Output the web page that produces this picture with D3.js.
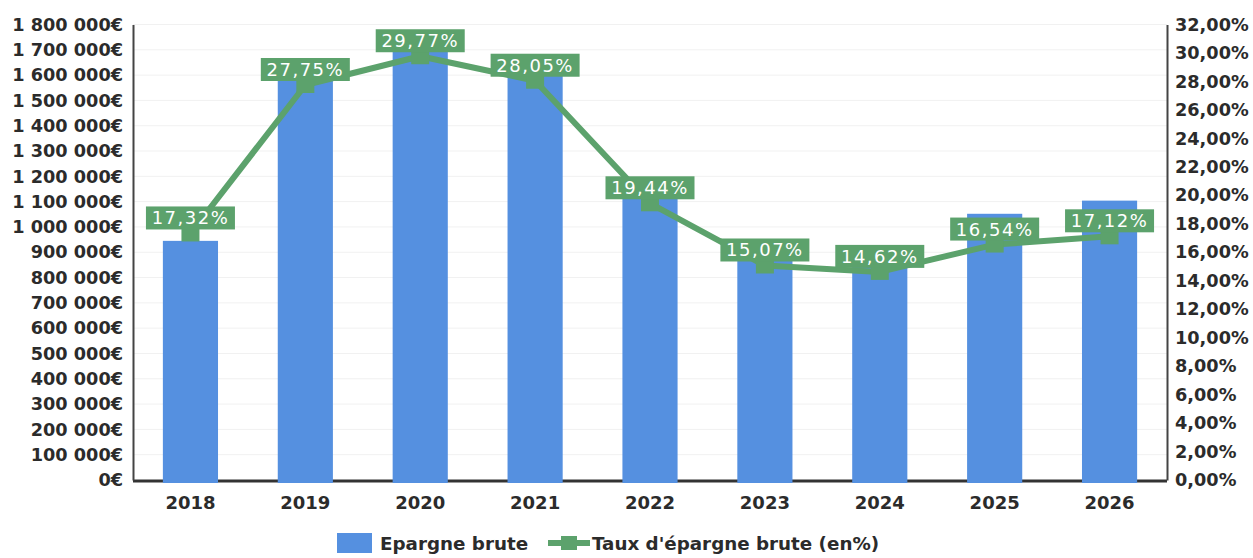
<!DOCTYPE html>
<html>
<head>
<meta charset="utf-8">
<title>Epargne brute</title>
<script src="https://d3js.org/d3.v7.min.js"></script>
<style>
  body { margin: 0; background: #fff; }
  svg { display: block; font-family: "DejaVu Sans", Verdana, sans-serif; }
</style>
</head>
<body>
<div id="chart"></div>
<script>
// data
var years = ["2018", "2019", "2020", "2021", "2022", "2023", "2024", "2025", "2026"];
var epargne = [945000, 1600000, 1700000, 1630000, 1150000, 900000, 880000, 1052000, 1104000];
var taux = [17.32, 27.75, 29.77, 28.05, 19.44, 15.07, 14.62, 16.54, 17.12];
var leftTicks = d3.range(0, 1800001, 100000);
var rightTicks = d3.range(0, 32.01, 2);
var legendNames = ["Epargne brute", "Taux d'épargne brute (en%)"];

var W = 1253, H = 558;
var margin = { top: 24.5, right: 86, bottom: 78, left: 133 };
var blue = "#5590e0", green = "#5ca26c";

var fr = d3.formatLocale({ decimal: ",", thousands: " ", grouping: [3], currency: ["", "€"] });
var fmtEuro = function (v) { return fr.format(",")(v) + "€"; };
var fmtPct = function (v) { return fr.format(".2f")(v) + "%"; };

var svg = d3.select("#chart").append("svg").attr("width", W).attr("height", H);

var x = d3.scaleBand().domain(years)
  .range([margin.left, W - margin.right])
  .paddingInner(0.52).paddingOuter(0.26);
var y = d3.scaleLinear().domain([0, 1800000]).range([H - margin.bottom, margin.top]);
var y2 = d3.scaleLinear().domain([0, 32]).range([H - margin.bottom, margin.top]);

// faint grid
svg.append("g").selectAll("line").data(leftTicks.slice(1)).join("line")
  .attr("x1", margin.left).attr("x2", W - margin.right)
  .attr("y1", function (d) { return y(d); }).attr("y2", function (d) { return y(d); })
  .attr("stroke", "#f1f1f1").attr("stroke-width", 1);

// baseline
svg.append("line")
  .attr("x1", margin.left).attr("x2", W - margin.right)
  .attr("y1", y(0) + 1).attr("y2", y(0) + 1)
  .attr("stroke", "#333").attr("stroke-width", 3);

// bars
svg.append("g").selectAll("rect").data(epargne).join("rect")
  .attr("x", function (d, i) { return x(years[i]); })
  .attr("width", x.bandwidth())
  .attr("y", function (d) { return y(d); })
  .attr("height", function (d) { return y(0) - y(d) + 3; })
  .attr("fill", blue);

// line
var cx = function (i) { return x(years[i]) + x.bandwidth() / 2; };
svg.append("path").datum(taux)
  .attr("fill", "none").attr("stroke", green).attr("stroke-width", 6)
  .attr("stroke-linejoin", "round")
  .attr("d", d3.line().x(function (d, i) { return cx(i); }).y(function (d) { return y2(d); }));

svg.append("g").selectAll("rect").data(taux).join("rect")
  .attr("x", function (d, i) { return cx(i) - 9; })
  .attr("y", function (d) { return y2(d) - 8; })
  .attr("width", 18).attr("height", 16)
  .attr("fill", green);

// value labels
var lab = svg.append("g").selectAll("g").data(taux).join("g")
  .attr("transform", function (d, i) { return "translate(" + cx(i) + "," + (y2(d) - 15.5) + ")"; });
lab.append("rect")
  .attr("x", -44.5).attr("y", -11.5).attr("width", 89).attr("height", 23)
  .attr("fill", green);
lab.append("text")
  .attr("text-anchor", "middle").attr("dy", "0.36em")
  .attr("fill", "#fff").attr("font-size", 18).attr("letter-spacing", 1.5)
  .text(function (d) { return fmtPct(d); });

// axes
var yAxisL = svg.append("g")
  .attr("transform", "translate(" + margin.left + ",0)")
  .call(d3.axisLeft(y).tickValues(leftTicks).tickSize(0).tickPadding(10).tickFormat(fmtEuro));
var yAxisR = svg.append("g")
  .attr("transform", "translate(" + (W - margin.right) + ",0)")
  .call(d3.axisRight(y2).tickValues(rightTicks).tickSize(0).tickPadding(8).tickFormat(fmtPct));
var xAxis = svg.append("g")
  .attr("transform", "translate(0," + (y(0) + 2) + ")")
  .call(d3.axisBottom(x).tickSize(0).tickPadding(14));

[yAxisL, yAxisR].forEach(function (g) {
  g.select(".domain").attr("stroke", "#444").attr("stroke-width", 2);
  g.selectAll("text").attr("font-size", 17.7).attr("font-weight", "bold").attr("fill", "#2b2b2b")
    .attr("font-family", "DejaVu Sans");
});
xAxis.select(".domain").remove();
xAxis.selectAll("text").attr("font-size", 18).attr("font-weight", "bold").attr("fill", "#2b2b2b")
  .attr("font-family", "DejaVu Sans");

// legend
var lg = svg.append("g").attr("font-size", 18.3).attr("font-weight", "bold").attr("fill", "#2b2b2b");
lg.append("rect").attr("x", 337).attr("y", 533).attr("width", 35).attr("height", 20).attr("fill", blue);
lg.append("text").attr("x", 380).attr("y", 543).attr("dy", "0.36em").text(legendNames[0]);
lg.append("line").attr("x1", 548).attr("x2", 590).attr("y1", 543).attr("y2", 543)
  .attr("stroke", green).attr("stroke-width", 6);
lg.append("rect").attr("x", 561).attr("y", 536).attr("width", 16).attr("height", 14).attr("fill", green);
lg.append("text").attr("x", 592).attr("y", 543).attr("dy", "0.36em").text(legendNames[1]);
</script>
</body>
</html>
